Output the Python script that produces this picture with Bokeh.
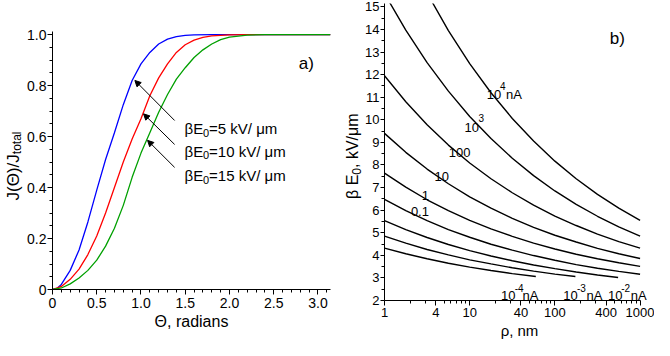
import math
from bokeh.plotting import figure
from bokeh.layouts import row
from bokeh.models import Range1d, FixedTicker, CustomJSTickFormatter, Label, Arrow, NormalHead, Title
from bokeh.core.properties import value
from bokeh.embed import file_html
from bokeh.resources import INLINE

FONT = "Liberation Sans"

# ---------------- panel a) data ----------------
theta_blue = [0, 0.05, 0.1, 0.2, 0.3, 0.4, 0.5, 0.6, 0.7, 0.8, 0.9, 1.0, 1.1, 1.2, 1.3, 1.4, 1.5, 1.6, 1.8, 2.0, 3.1416]
j_blue = [0, 0.004, 0.02, 0.075, 0.155, 0.265, 0.39, 0.51, 0.615, 0.725, 0.82, 0.885, 0.93, 0.963, 0.982, 0.992, 0.997, 0.999, 1.0, 1.0, 1.0]
theta_red = [0, 0.1, 0.2, 0.3, 0.4, 0.5, 0.6, 0.7, 0.8, 0.9, 1.0, 1.1, 1.2, 1.3, 1.4, 1.5, 1.6, 1.7, 1.8, 2.0, 2.2, 3.1416]
j_red = [0, 0.012, 0.04, 0.08, 0.137, 0.21, 0.3, 0.40, 0.5, 0.59, 0.67, 0.76, 0.83, 0.885, 0.93, 0.96, 0.978, 0.989, 0.995, 0.999, 1.0, 1.0]
theta_green = [0, 0.1, 0.2, 0.3, 0.4, 0.5, 0.6, 0.7, 0.8, 0.9, 1.0, 1.1, 1.2, 1.3, 1.4, 1.5, 1.6, 1.7, 1.8, 1.9, 2.0, 2.2, 2.4, 3.1416]
j_green = [0, 0.006, 0.022, 0.045, 0.075, 0.115, 0.17, 0.24, 0.33, 0.44, 0.535, 0.615, 0.695, 0.765, 0.825, 0.87, 0.91, 0.94, 0.963, 0.98, 0.99, 0.998, 1.0, 1.0]
legend_values = ["5", "10", "15"]
a_xticks = [0, 0.5, 1.0, 1.5, 2.0, 2.5, 3.0]
a_yticks = [0, 0.2, 0.4, 0.6, 0.8, 1.0]

# ---------------- panel b) data ----------------
rho_grid = [1, 1.778, 3.162, 5.623, 10, 17.78, 31.62, 56.23, 100, 177.8, 316.2, 562.3, 1000]
E_1e4 = [19.61, 17.48, 15.61, 13.95, 12.49, 11.20, 10.06, 9.06, 8.17, 7.39, 6.70, 6.09, 5.55]
E_1e3 = [15.59, 13.97, 12.53, 11.27, 10.15, 9.17, 8.30, 7.53, 6.85, 6.26, 5.73, 5.26, 4.85]
E_100 = [11.95, 10.80, 9.78, 8.88, 8.09, 7.39, 6.77, 6.22, 5.74, 5.32, 4.94, 4.61, 4.32]
E_10 = [9.40, 8.56, 7.82, 7.17, 6.59, 6.09, 5.64, 5.24, 4.89, 4.59, 4.31, 4.07, 3.86]
E_1 = [7.64, 7.02, 6.46, 5.98, 5.55, 5.17, 4.84, 4.54, 4.28, 4.05, 3.85, 3.67, 3.51]
E_01 = [6.48, 5.98, 5.54, 5.14, 4.80, 4.49, 4.23, 3.99, 3.78, 3.59, 3.43, 3.29, 3.16]
rho_1em2 = [1, 1.778, 3.162, 5.623, 10, 17.78, 31.62, 56.23, 100, 177.8, 316.2, 552]
E_1em2 = [5.54, 5.14, 4.79, 4.48, 4.21, 3.97, 3.76, 3.57, 3.41, 3.26, 3.13, 3.02]
rho_1em3 = [1, 1.778, 3.162, 5.623, 10, 17.78, 31.62, 56.23, 100, 174]
E_1em3 = [4.85, 4.54, 4.26, 4.02, 3.80, 3.62, 3.45, 3.30, 3.17, 3.06]
rho_1em4 = [1, 1.778, 3.162, 5.623, 10, 17.78, 31.62, 59.7]
E_1em4 = [4.32, 4.07, 3.85, 3.65, 3.48, 3.33, 3.19, 3.06]
b_xticks = [1, 4, 10, 40, 100, 400, 1000]
b_xminor = [2, 3, 5, 6, 7, 8, 9, 20, 30, 50, 60, 70, 80, 90, 200, 300, 500, 600, 700, 800, 900]
b_yticks = list(range(2, 16))

H = 340


def style_axes(p, size="14px"):
    for ax in p.axis:
        ax.axis_line_color = "black"
        ax.axis_line_width = 1
        ax.major_tick_line_color = "black"
        ax.minor_tick_line_color = "black"
        ax.major_tick_in = 0
        ax.major_tick_out = 5
        ax.minor_tick_in = 0
        ax.minor_tick_out = 3
        ax.major_label_text_font = FONT
        ax.major_label_text_font_size = size
        ax.major_label_text_color = "black"
        ax.axis_label_text_font = FONT
        ax.axis_label_text_font_style = "normal"
        ax.axis_label_text_color = "black"
    p.grid.visible = False
    p.outline_line_color = None
    p.background_fill_color = "white"
    p.border_fill_color = "white"


def lab(p, x, y, text, size, align="left"):
    p.add_layout(Label(x=x, y=y, text=text, text_font=FONT, text_font_size=size,
                       text_color="black", text_baseline="alphabetic", text_align=align))


def label_fig(width):
    f = figure(width=width, height=H, x_range=Range1d(0, width), y_range=Range1d(0, H),
               x_axis_location=None, y_axis_location=None, output_backend="svg",
               toolbar_location=None, min_border=0)
    f.grid.visible = False
    f.outline_line_color = None
    f.background_fill_color = "white"
    f.border_fill_color = "white"
    return f


def vtext(f, x, y, text, size):
    f.text(x=[x], y=[y], text=[text], angle=math.pi / 2, text_font=value(FONT),
           text_font_size=value(size), text_baseline="alphabetic", text_align="left",
           text_color="black")


# ================= y-title of panel a =================
labA = label_fig(24)
vtext(labA, 13, 140, "J(Θ)/J", "17px")
vtext(labA, 16.5, 186.3, "total", "12px")

# ================= panel a =================
p1 = figure(width=314, height=H, x_range=Range1d(0, 3.1416), y_range=Range1d(0, 1.012),
            output_backend="svg", toolbar_location=None,
            min_border_left=26, min_border_right=8, min_border_top=31, min_border_bottom=51)
style_axes(p1)
p1.xaxis.ticker = FixedTicker(ticks=a_xticks, minor_ticks=[i / 10 for i in range(0, 32)])
p1.yaxis.ticker = FixedTicker(ticks=a_yticks, minor_ticks=[i / 20 for i in range(0, 21)])
fmt = CustomJSTickFormatter(code="return tick == 0 ? '0' : tick.toFixed(1);")
p1.xaxis.formatter = fmt
p1.yaxis.formatter = fmt
p1.xaxis.major_label_standoff = 3
p1.yaxis.major_label_standoff = 1
p1.xaxis.axis_label = "Θ, radians"
p1.xaxis.axis_label_text_font_size = "16px"
p1.xaxis.axis_label_standoff = 2

p1.line(theta_blue, j_blue, line_color="#0000ff", line_width=1.3)
p1.line(theta_red, j_red, line_color="#ff0000", line_width=1.3)
p1.line(theta_green, j_green, line_color="#00a000", line_width=1.3)

arrow_tails = [(1.380, 0.663), (1.380, 0.569), (1.380, 0.479)]
arrow_tips = [(0.931, 0.820), (1.029, 0.689), (1.074, 0.585)]
for (xs, ys), (xe, ye) in zip(arrow_tails, arrow_tips):
    p1.add_layout(Arrow(end=NormalHead(size=6, fill_color="black", line_color="black", line_width=1),
                        x_start=xs, y_start=ys, x_end=xe, y_end=ye, line_color="black", line_width=1))

base_y = [0.631, 0.542, 0.447]
for v, y in zip(legend_values, base_y):
    lab(p1, 1.492, y, "βE", "15px")
    lab(p1, 1.701, y - 0.0157, "0", "11px")
    lab(p1, 1.769, y, "=" + v + " kV/ μm", "15px")

lab(p1, 2.782, 0.886, "a)", "17px")

# ================= y-title of panel b =================
labB = label_fig(24)
vtext(labB, 14, 141.6, "β E", "16px")
vtext(labB, 17.5, 165.8, "0", "12px")
vtext(labB, 14, 172.5, ", kV/μm", "16px")

# ================= panel b =================
p2 = figure(width=292, height=H, x_axis_type="log", x_range=Range1d(1, 1476), y_range=Range1d(2, 15.15),
            output_backend="svg", toolbar_location=None,
            min_border_left=22, min_border_right=0, min_border_top=3, min_border_bottom=40)
style_axes(p2, "13px")
p2.xaxis.ticker = FixedTicker(ticks=b_xticks, minor_ticks=b_xminor)
p2.xaxis.formatter = CustomJSTickFormatter(code="return tick.toFixed(0);")
p2.xaxis.bounds = (1, 1011)
p2.yaxis.ticker = FixedTicker(ticks=b_yticks, minor_ticks=[i + 0.5 for i in range(2, 15)])
p2.yaxis.formatter = CustomJSTickFormatter(code="return tick.toFixed(0);")
p2.yaxis.major_tick_out = 4
p2.yaxis.major_label_standoff = 1
p2.xaxis.major_label_standoff = 2
p2.add_layout(Title(text="ρ, nm", align="center", offset=8, text_font=FONT, text_font_size="15px",
                    text_font_style="normal", text_color="black", standoff=0), "below")

curves = [(rho_grid, E_1e4), (rho_grid, E_1e3), (rho_grid, E_100), (rho_grid, E_10),
          (rho_grid, E_1), (rho_grid, E_01), (rho_1em2, E_1em2), (rho_1em3, E_1em3), (rho_1em4, E_1em4)]
for xs, ys in curves:
    p2.line(xs, ys, line_color="black", line_width=1.4)

# curve labels
lab(p2, 15.88, 11.11, "10", "13px"); lab(p2, 22.74, 11.50, "4", "10px"); lab(p2, 26.7, 11.11, "nA", "13px")
lab(p2, 8.71, 9.68, "10", "13px"); lab(p2, 12.7, 10.07, "3", "10px")
lab(p2, 5.69, 8.56, "100", "13px")
lab(p2, 3.87, 7.51, "10", "13px")
lab(p2, 2.74, 6.67, "1", "13px")
lab(p2, 2.04, 5.94, "0.1", "13px")
lab(p2, 23.33, 2.22, "10", "13px"); lab(p2, 33.68, 2.55, "-4", "10px"); lab(p2, 41.7, 2.22, "nA", "13px")
lab(p2, 125.7, 2.22, "10", "13px"); lab(p2, 181.9, 2.55, "-3", "10px"); lab(p2, 235.1, 2.22, "nA", "13px")
lab(p2, 420.1, 2.22, "10", "13px"); lab(p2, 601.6, 2.55, "-2", "10px"); lab(p2, 777.8, 2.22, "nA", "13px")
lab(p2, 440, 13.6, "b)", "17px")

for f in (labA, p1, labB, p2):
    if "frame_align" in f.properties():
        f.frame_align = False

layout = row(labA, p1, labB, p2)
open("out.html", "w").write(file_html(layout, INLINE))
